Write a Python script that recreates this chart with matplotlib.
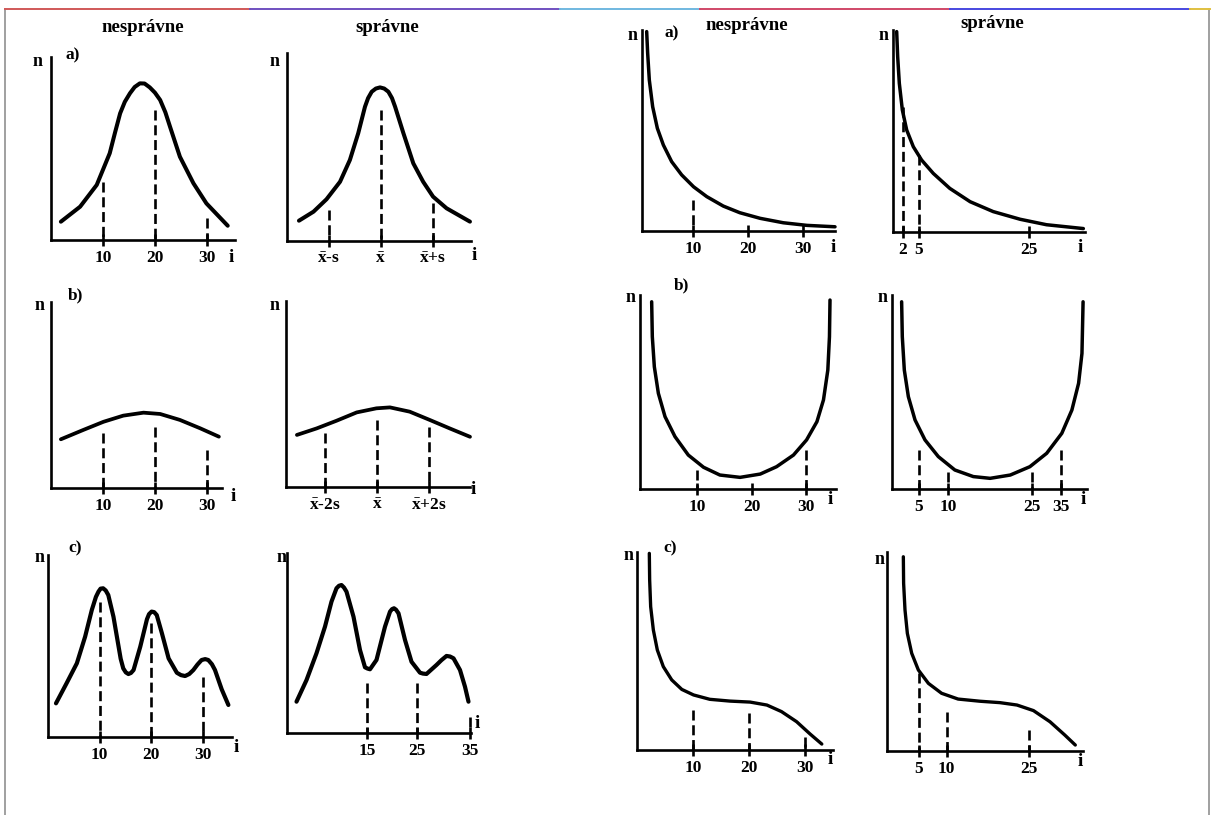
import matplotlib.pyplot as plt
from matplotlib.lines import Line2D

# ---- data (n in arbitrary units 0..100, i along the axis) ----
# row a, left pair (normal distribution)
a1_i = [1.9, 5.6, 8.8, 11.3, 12.3, 13.3, 14.2, 15.2, 16.1, 17.1, 18.0, 19.0, 20.0, 21.0, 22.0, 22.9, 24.8, 27.4, 29.9, 34.0]
a1_n = [10.0, 18.2, 30.1, 47.4, 58.5, 69.2, 75.5, 80.2, 83.6, 85.6, 85.5, 83.4, 80.5, 76.5, 69.8, 61.9, 45.5, 31.0, 20.0, 7.8]
a1_dash_i = [10, 20, 30]
a1_dash_n = [31.9, 71.0, 12.2]
a1_ticks = [10, 20, 30]
a1_labels = ['10', '20', '30']

a2_i = [2.3, 5.1, 7.6, 10.2, 12.1, 13.7, 15.0, 15.6, 16.3, 17.1, 17.9, 18.7, 19.5, 20.2, 20.8, 22.4, 24.3, 26.2, 28.1, 30.7, 35.2]
a2_n = [10.8, 15.6, 22.2, 31.5, 43.1, 57.3, 71.4, 76.0, 79.4, 81.1, 81.7, 81.1, 79.4, 76.0, 71.4, 57.3, 41.3, 31.5, 23.6, 17.4, 10.3]
a2_dash_i = [8, 18, 28]
a2_dash_n = [16.5, 69.7, 20.0]
a2_ticks = [8, 18, 28]
a2_labels = [r'$\bar{x}$-s', r'$\bar{x}$', r'$\bar{x}$+s']

# row a, right pair (decreasing)
a3_i = [1.58, 1.76, 2.06, 2.67, 3.52, 4.61, 6.12, 7.94, 10.1, 12.5, 15.5, 18.5, 22.2, 26.4, 30.7, 35.8]
a3_n = [99.2, 88.4, 75.1, 61.8, 51.1, 42.8, 34.5, 27.9, 22.0, 17.1, 12.4, 9.1, 6.3, 4.1, 2.8, 2.1]
a3_dash_i = [10]
a3_dash_n = [15.4]
a3_ticks = [10, 20, 30]
a3_labels = ['10', '20', '30']

a4_i = [0.94, 1.12, 1.42, 1.97, 2.76, 3.97, 5.48, 7.6, 10.6, 14.3, 18.5, 23.4, 28.2, 34.9]
a4_n = [99.2, 86.8, 73.6, 60.4, 50.5, 42.2, 35.6, 29.0, 21.6, 15.0, 10.1, 6.3, 3.6, 1.7]
a4_dash_i = [2, 5]
a4_dash_n = [62.0, 38.1]
a4_ticks = [2, 5, 25]
a4_labels = ['2', '5', '25']

# row b, left pair (flat)
b1_i = [1.9, 6.2, 10.1, 13.9, 17.8, 21.0, 24.8, 28.7, 32.3]
b1_n = [26.2, 31.2, 35.6, 38.9, 40.5, 39.8, 36.6, 32.1, 27.6]
b1_dash_i = [10, 20, 30]
b1_dash_n = [29.4, 33.0, 20.4]
b1_ticks = [10, 20, 30]
b1_labels = ['10', '20', '30']

b2_i = [2.1, 5.9, 9.7, 13.6, 17.4, 20.0, 23.8, 27.7, 31.5, 35.4]
b2_n = [28.0, 31.5, 35.6, 40.1, 42.3, 42.8, 40.5, 36.0, 31.5, 27.0]
b2_dash_i = [7.5, 17.5, 27.5]
b2_dash_n = [28.9, 36.0, 32.4]
b2_ticks = [7.5, 17.5, 27.5]
b2_labels = [r'$\bar{x}$-2s', r'$\bar{x}$', r'$\bar{x}$+2s']

# row b, right pair (U shape)
b3_i = [1.68, 1.80, 2.17, 2.91, 4.13, 5.96, 8.4, 11.2, 14.2, 17.9, 21.6, 24.6, 27.7, 30.1, 32.0, 33.2, 34.0, 34.3, 34.4]
b3_n = [96.5, 78.5, 63.0, 49.3, 37.3, 27.0, 17.5, 11.2, 7.2, 6.0, 7.7, 11.5, 17.5, 25.3, 34.7, 45.9, 61.3, 78.5, 97.4]
b3_dash_i = [10, 30]
b3_dash_n = [9.8, 20.1]
b3_ticks = [10, 20, 30]
b3_labels = ['10', '20', '30']

b4_i = [1.90, 2.02, 2.38, 3.10, 4.29, 6.07, 8.45, 11.4, 14.7, 17.7, 21.3, 24.8, 27.8, 30.5, 32.3, 33.5, 34.1, 34.3]
b4_n = [96.5, 78.5, 61.3, 47.6, 35.6, 25.3, 16.7, 9.8, 6.4, 5.5, 7.2, 11.5, 18.4, 28.7, 40.7, 54.5, 69.9, 96.5]
b4_dash_i = [5, 10.2, 25.2, 30.4]
b4_dash_n = [20.1, 8.9, 8.9, 20.1]
b4_ticks = [5, 10.2, 25.2, 30.4]
b4_labels = ['5', '10', '25', '35']

# row c, left pair (multimodal)
c1_i = [1.55, 3.6, 5.6, 7.2, 8.5, 9.3, 9.8, 10.2, 10.7, 11.2, 11.7, 12.7, 13.7, 14.1, 14.6, 15.1, 15.6, 16.1, 16.6,
        17.9, 19.2, 19.6, 20.1, 20.6, 21.1, 22.1, 23.4, 25.0, 25.8, 26.6, 27.4, 28.2, 29.0, 29.8, 30.5, 31.1,
        31.8, 32.4, 33.7, 35.0]
c1_n = [18.5, 29.5, 40.5, 55.1, 69.8, 77.0, 79.9, 81.5, 81.7, 80.5, 78.0, 66.1, 49.6, 43.0, 37.7, 35.5, 34.6, 35.2, 36.8,
        49.6, 64.7, 67.5, 68.9, 68.6, 67.0, 57.0, 43.2, 35.3, 34.0, 33.5, 34.6, 36.8, 39.8, 42.3, 42.8, 42.3,
        40.0, 36.8, 26.2, 17.6]
c1_dash_i = [10, 20, 30]
c1_dash_n = [74.4, 62.5, 33.2]
c1_ticks = [10, 20, 30]
c1_labels = ['10', '20', '30']

c2_i = [0.9, 2.9, 4.9, 6.6, 7.9, 8.9, 9.4, 9.9, 10.4, 10.9, 12.3, 13.6, 14.6, 15.1, 15.6, 16.9, 18.6, 19.6, 20.0,
        20.4, 20.8, 21.3, 22.6, 23.9, 25.6, 26.2, 26.9, 28.9, 29.9, 30.9, 31.6, 32.3, 33.6, 34.6, 35.3]
c2_n = [17.4, 29.4, 44.3, 59.1, 73.0, 80.4, 81.8, 82.2, 80.8, 78.5, 64.6, 46.1, 36.5, 35.8, 35.4, 40.6, 59.1, 67.4, 68.8,
        69.3, 68.5, 66.5, 51.7, 39.6, 33.5, 33.0, 32.8, 37.8, 40.5, 42.8, 42.5, 41.5, 35.0, 25.7, 17.4]
c2_dash_i = [15, 25, 35.6]
c2_dash_n = [27.6, 27.6, 9.1]
c2_ticks = [15, 25, 35.6]
c2_labels = ['15', '25', '35']

# row c, right pair (decreasing with plateau)
c3_i = [2.2, 2.26, 2.44, 2.92, 3.63, 4.7, 6.2, 8.0, 10.1, 13.0, 16.6, 20.2, 23.2, 25.8, 28.5, 30.9, 33.0]
c3_n = [99.3, 85.9, 72.4, 60.6, 50.5, 42.1, 35.4, 30.6, 27.8, 25.6, 24.7, 24.2, 22.7, 19.4, 14.3, 8.1, 3.0]
c3_dash_i = [10, 20, 30]
c3_dash_n = [20.2, 18.5, 6.7]
c3_ticks = [10, 20, 30]
c3_labels = ['10', '20', '30']

c4_i = [2.15, 2.2, 2.45, 2.88, 3.67, 4.88, 6.7, 9.1, 12.1, 16.1, 19.7, 22.8, 25.8, 28.8, 31.5, 33.4]
c4_n = [97.6, 84.3, 70.9, 59.1, 49.1, 40.7, 34.0, 29.0, 26.1, 25.0, 24.3, 23.1, 20.3, 14.7, 8.0, 3.0]
c4_dash_i = [5, 10, 25]
c4_dash_n = [39.0, 19.7, 10.6]
c4_ticks = [5, 10, 25]
c4_labels = ['5', '10', '25']

# ---- figure ----
W, H = 1216, 815
plt.rcParams['font.family'] = ['Liberation Serif', 'DejaVu Serif']
plt.rcParams['mathtext.fontset'] = 'custom'
plt.rcParams['mathtext.rm'] = 'Liberation Serif:bold'
plt.rcParams['mathtext.it'] = 'Liberation Serif:bold'
plt.rcParams['mathtext.bf'] = 'Liberation Serif:bold'

fig = plt.figure(figsize=(W / 100, H / 100), dpi=100)


def ftext(x, y, s, **kw):
    fig.text(x / W, 1 - y / H, s, ha='center', va='center', fontweight='bold', **kw)


def panel(box, xlim, ci, cn, di, dn, ticks, labels, lw, n_xy, i_xy):
    l, t, r, b = box
    ax = fig.add_axes([l / W, 1 - b / H, (r - l) / W, (b - t) / H])
    ax.set_xlim(*xlim)
    ax.set_ylim(0, 100)
    ax.patch.set_visible(False)
    for s in ['top', 'right']:
        ax.spines[s].set_visible(False)
    for s in ['left', 'bottom']:
        ax.spines[s].set_linewidth(1.9)
    ax.plot(ci, cn, color='black', lw=lw, solid_capstyle='round',
            solid_joinstyle='round', clip_on=False)
    for x, top in zip(di, dn):
        ax.plot([x, x], [top, 0], color='black', lw=1.9, ls=(0, (3.8, 1.8)), clip_on=False)
    ax.set_yticks([])
    ax.set_xticks(ticks)
    ax.set_xticklabels(labels, fontweight='bold', fontsize=12.5)
    ax.tick_params(axis='x', direction='inout', length=9, width=1.9, pad=3)
    ftext(n_xy[0], n_xy[1], 'n', fontsize=13)
    ftext(i_xy[0], i_xy[1], 'i', fontsize=14)
    return ax


panel((51, 57, 235, 240), (0, 35.4), a1_i, a1_n, a1_dash_i, a1_dash_n, a1_ticks, a1_labels, 2.9, (38, 62), (231, 257))
panel((287, 53, 471, 241), (0, 35.4), a2_i, a2_n, a2_dash_i, a2_dash_n, a2_ticks, a2_labels, 2.9, (275, 62), (474, 256))
panel((642, 30, 835, 231), (0.73, 35.8), a3_i, a3_n, a3_dash_i, a3_dash_n, a3_ticks, a3_labels, 2.5, (633, 35), (833, 248))
panel((893, 30, 1085, 232), (0.27, 35.2), a4_i, a4_n, a4_dash_i, a4_dash_n, a4_ticks, a4_labels, 2.5, (884, 35), (1080, 248))

panel((51, 302, 222, 488), (0, 32.9), b1_i, b1_n, b1_dash_i, b1_dash_n, b1_ticks, b1_labels, 2.7, (40, 305), (233, 496))
panel((286, 301, 470, 487), (0, 35.4), b2_i, b2_n, b2_dash_i, b2_dash_n, b2_ticks, b2_labels, 2.7, (275, 305), (473, 490))
panel((640, 295, 836, 489), (-0.46, 35.5), b3_i, b3_n, b3_dash_i, b3_dash_n, b3_ticks, b3_labels, 2.5, (631, 298), (830, 500))
panel((892, 295, 1087, 489), (0.18, 35.0), b4_i, b4_n, b4_dash_i, b4_dash_n, b4_ticks, b4_labels, 2.5, (883, 298), (1083, 500))

panel((48, 555, 232, 737), (0, 35.7), c1_i, c1_n, c1_dash_i, c1_dash_n, c1_ticks, c1_labels, 3.0, (40, 558), (236, 748))
panel((287, 553, 471, 733), (-1, 35.8), c2_i, c2_n, c2_dash_i, c2_dash_n, c2_ticks, c2_labels, 3.0, (282, 558), (477, 724))
panel((637, 552, 833, 750), (0, 35.0), c3_i, c3_n, c3_dash_i, c3_dash_n, c3_ticks, c3_labels, 2.4, (629, 555), (830, 760))
panel((887, 552, 1083, 751), (-0.82, 34.8), c4_i, c4_n, c4_dash_i, c4_dash_n, c4_ticks, c4_labels, 2.4, (880, 559), (1080, 762))

# column titles and row letters
ftext(143, 28, 'nesprávne', fontsize=13.5)
ftext(387, 27, 'správne', fontsize=13.5)
ftext(747, 25, 'nesprávne', fontsize=13.5)
ftext(992, 23, 'správne', fontsize=13.5)
for x, y, s in [(73, 55, 'a)'), (672, 33, 'a)'), (75, 295, 'b)'), (682, 285, 'b)'),
                (75, 548, 'c)'), (670, 548, 'c)')]:
    ftext(x, y, s, fontsize=12.5)

# scan frame
for x in [5, 1209]:
    fig.add_artist(Line2D([x / W, x / W], [1 - 9 / H, 0], color='#a0a0a0', lw=1.4,
                          transform=fig.transFigure))
frame_x = [5, 250, 560, 700, 950, 1190, 1210]
frame_c = ['#d05858', '#7050c0', '#70b8e0', '#d04868', '#4848e0', '#e0c040']
for k in range(len(frame_c)):
    fig.add_artist(Line2D([frame_x[k] / W, frame_x[k + 1] / W], [1 - 9 / H, 1 - 9 / H],
                          color=frame_c[k], lw=1.4, transform=fig.transFigure))

fig.savefig('out.png', dpi=100)
